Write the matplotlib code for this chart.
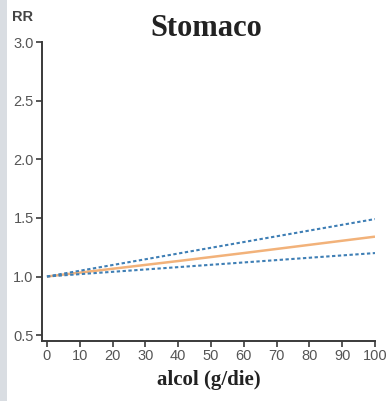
import numpy as np
import matplotlib
matplotlib.use("Agg")
import matplotlib.pyplot as plt
from matplotlib.patches import Rectangle

# alcohol intake (g/day) vs relative risk, stomach
dose = [0, 20, 40, 60, 80, 100]
rr = [1.00, 1.066, 1.132, 1.20, 1.27, 1.34]
rr_upper = [1.00, 1.098, 1.196, 1.294, 1.392, 1.49]
rr_lower = [1.00, 1.04, 1.08, 1.12, 1.16, 1.20]

x_ticks = list(range(0, 101, 10))
y_ticks = [0.5, 1.0, 1.5, 2.0, 2.5, 3.0]

plt.rcParams["font.family"] = ["Liberation Sans", "DejaVu Sans"]

fig = plt.figure(figsize=(3.9, 4.01), dpi=100)
fig.patches.append(Rectangle((0, 0), 7 / 390, 1, transform=fig.transFigure,
                             facecolor="#d9dde2", edgecolor="none", zorder=-5))

ax = fig.add_axes([42 / 390, 1 - 341 / 401, 333 / 390, 299 / 401])

ax.plot(dose, rr, color="#f2b27a", lw=1.8, solid_capstyle="butt")
ax.plot(dose, rr_upper, color="#3f7fb5", lw=1.5, ls=(0, (1.6, 1.2)))
ax.plot(dose, rr_lower, color="#3f7fb5", lw=1.5, ls=(0, (1.6, 1.2)))

ax.set_xlim(-1.5, 100)
ax.set_ylim(0.45, 3.0)
ax.set_xticks(x_ticks)
ax.set_yticks(y_ticks)
ax.set_yticklabels([f"{v:.1f}" for v in y_ticks])

for side in ("top", "right"):
    ax.spines[side].set_visible(False)
for side in ("left", "bottom"):
    ax.spines[side].set_color("#3a3a3a")
    ax.spines[side].set_linewidth(1.4)
ax.spines["left"].set_bounds(0.45, 3.0)

ax.tick_params(axis="both", colors="#3a3a3a", labelcolor="#555555",
               length=4, width=1.2, labelsize=10.5, pad=2)

ax.set_xlabel("alcol (g/die)", family="Liberation Serif", fontweight="bold",
              fontsize=15, color="#222222", labelpad=5)
fig.text(206 / 390, 1 - 28 / 401, "Stomaco", family="Liberation Serif",
         fontweight="bold", fontsize=22, ha="center", va="center", color="#222222")
fig.text(12 / 390, 1 - 17 / 401, "RR", fontweight="bold", fontsize=10.5,
         ha="left", va="center", color="#444444")

fig.savefig("out.png", dpi=100)
